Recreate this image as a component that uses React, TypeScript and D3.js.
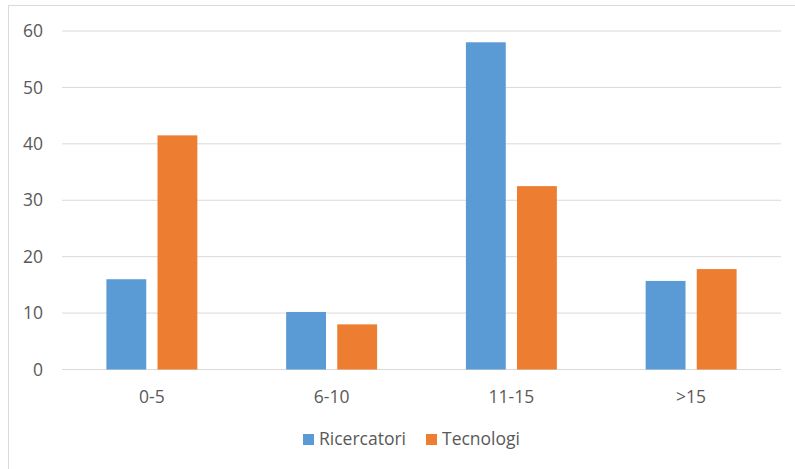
import React from "react";
import * as d3 from "d3";

const categories = ["0-5", "6-10", "11-15", ">15"];
const seriesNames = ["Ricercatori", "Tecnologi"];
const ricercatori = [16, 10.2, 58, 15.7];
const tecnologi = [41.5, 8, 32.5, 17.8];
const yTicks = [0, 10, 20, 30, 40, 50, 60];

const colors = ["#5B9BD5", "#ED7D31"];
const W = 795;
const H = 469;
const margin = { left: 62, right: 14, top: 31, bottom: 99.5 };
const FONT = "'Open Sans', 'Liberation Sans', sans-serif";
const FS = 17.5;

export default function App() {
  const x0 = d3
    .scaleBand<string>()
    .domain(categories)
    .range([margin.left, W - margin.right])
    .paddingInner(0.494)
    .paddingOuter(0.247);
  const x1 = d3
    .scaleBand<string>()
    .domain(seriesNames)
    .range([0, x0.bandwidth()])
    .paddingInner(0.22);
  const y = d3
    .scaleLinear()
    .domain([0, 60])
    .range([H - margin.bottom, margin.top]);

  const series = [ricercatori, tecnologi];

  return (
    <svg
      width={W}
      height={H}
      style={{ position: "absolute", left: 0, top: 0, background: "#fff" }}
      fontFamily={FONT}
    >
      <rect x={8.5} y={5.5} width={W - 8} height={H} fill="#fff" stroke="#D9D9D9" />
      {yTicks.map((t) => (
        <g key={t}>
          <line
            x1={margin.left}
            x2={W - margin.right}
            y1={y(t)}
            y2={y(t)}
            stroke="#D9D9D9"
            strokeWidth={1}
          />
          <text
            x={43}
            y={y(t)}
            dy="0.35em"
            textAnchor="end"
            fontSize={FS}
            fill="#595959"
          >
            {t}
          </text>
        </g>
      ))}
      {categories.map((c, i) => (
        <g key={c}>
          {series.map((vals, s) => (
            <rect
              key={s}
              x={(x0(c) ?? 0) + (x1(seriesNames[s]) ?? 0)}
              y={y(vals[i])}
              width={x1.bandwidth()}
              height={y(0) - y(vals[i])}
              fill={colors[s]}
            />
          ))}
          <text
            x={(x0(c) ?? 0) + x0.bandwidth() / 2}
            y={397}
            dy="0.35em"
            textAnchor="middle"
            fontSize={FS}
            fill="#595959"
          >
            {c}
          </text>
        </g>
      ))}
      <g>
        <rect x={303} y={434} width={11} height={11} fill={colors[0]} />
        <text x={319} y={439} dy="0.35em" fontSize={FS} fill="#595959">
          {seriesNames[0]}
        </text>
        <rect x={426} y={434} width={11} height={11} fill={colors[1]} />
        <text x={442} y={439} dy="0.35em" fontSize={FS} fill="#595959">
          {seriesNames[1]}
        </text>
      </g>
    </svg>
  );
}
